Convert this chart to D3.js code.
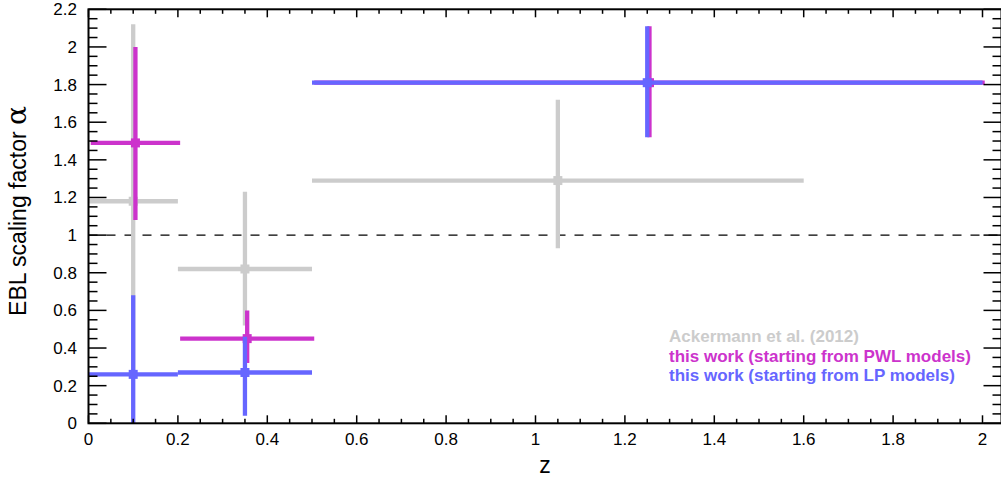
<!DOCTYPE html>
<html>
<head>
<meta charset="utf-8">
<script src="https://cdn.jsdelivr.net/npm/d3@7"></script>
<style>
  body { margin: 0; background: #fff; }
  text { font-family: "Liberation Sans", Arial, sans-serif; }
</style>
</head>
<body>
<script>
// data: bin centre, half width, value, upper and lower error
const ackermann = [
  { x: 0.10, xlo: 0.10, xhi: 0.10, y: 1.18, ehi: 0.94, elo: 0.94 },
  { x: 0.35, xlo: 0.15, xhi: 0.15, y: 0.82, ehi: 0.41, elo: 0.30 },
  { x: 1.05, xlo: 0.55, xhi: 0.55, y: 1.29, ehi: 0.43, elo: 0.36 }
];
const pwl = [
  { x: 0.105, xlo: 0.10, xhi: 0.10, y: 1.49, ehi: 0.51, elo: 0.41 },
  { x: 0.355, xlo: 0.15, xhi: 0.15, y: 0.45, ehi: 0.15, elo: 0.13 },
  { x: 1.255, xlo: 0.75, xhi: 0.75, y: 1.81, ehi: 0.30, elo: 0.29 }
];
const lp = [
  { x: 0.10, xlo: 0.10, xhi: 0.10, y: 0.26, ehi: 0.42, elo: 0.30 },
  { x: 0.35, xlo: 0.15, xhi: 0.15, y: 0.27, ehi: 0.19, elo: 0.23 },
  { x: 1.25, xlo: 0.75, xhi: 0.75, y: 1.81, ehi: 0.30, elo: 0.29 }
];
const xTicks = [0, 0.2, 0.4, 0.6, 0.8, 1, 1.2, 1.4, 1.6, 1.8, 2];
const yTicks = [0, 0.2, 0.4, 0.6, 0.8, 1, 1.2, 1.4, 1.6, 1.8, 2, 2.2];
const legendLabels = ["Ackermann et al. (2012)", "this work (starting from PWL models)", "this work (starting from LP models)"];
const colors = ["#cccccc", "#cc33cc", "#6666ff"];

const width = 1001, height = 479;
const mLeft = 88.5, mRight = 1001.5, mTop = 9.3, mBottom = 423.3;
const xMax = 2.0425;

const svg = d3.select("body").append("svg")
  .attr("width", width)
  .attr("height", height);

const x = d3.scaleLinear().domain([0, xMax]).range([mLeft, mRight]);
const y = d3.scaleLinear().domain([0, 2.2]).range([mBottom, mTop]);

svg.append("clipPath").attr("id", "clip")
  .append("rect").attr("x", mLeft).attr("y", mTop)
  .attr("width", mRight - mLeft).attr("height", mBottom - mTop);

// dashed reference at 1
svg.append("line")
  .attr("x1", mLeft).attr("x2", mRight)
  .attr("y1", y(1)).attr("y2", y(1))
  .attr("stroke", "#000").attr("stroke-width", 1.3)
  .attr("stroke-dasharray", "9,9");

const plot = svg.append("g").attr("clip-path", "url(#clip)");

[ackermann, pwl, lp].forEach(function (series, i) {
  const g = plot.append("g").attr("stroke", colors[i]).attr("fill", colors[i]);
  series.forEach(function (d) {
    g.append("line")
      .attr("x1", x(d.x - d.xlo)).attr("x2", x(d.x + d.xhi))
      .attr("y1", y(d.y)).attr("y2", y(d.y))
      .attr("stroke-width", 4.3);
    g.append("line")
      .attr("x1", x(d.x)).attr("x2", x(d.x))
      .attr("y1", y(d.y - d.elo)).attr("y2", y(d.y + d.ehi))
      .attr("stroke-width", 4.3);
    g.append("rect")
      .attr("x", x(d.x) - 4.5).attr("y", y(d.y) - 4.5)
      .attr("width", 9).attr("height", 9)
      .attr("stroke", "none");
  });
});

// axes
const xMinor = d3.range(0, 41).map(i => i * 0.05).filter(v => v <= xMax);
const yMinor = d3.range(0, 45).map(i => i * 0.05);

function tickLines(g, vals, fn) {
  g.append("g").selectAll("line").data(vals).enter().append("line")
    .attr("stroke", "#000").attr("stroke-width", 1.5)
    .each(fn);
}

const axes = svg.append("g");
// bottom & top ticks
tickLines(axes, xMinor, function (v, i) {
  const len = (i % 4 === 0) ? 8 : 4.5;
  d3.select(this).attr("x1", x(v)).attr("x2", x(v)).attr("y1", mBottom).attr("y2", mBottom - len);
});
tickLines(axes, xMinor, function (v, i) {
  const len = (i % 4 === 0) ? 8 : 4.5;
  d3.select(this).attr("x1", x(v)).attr("x2", x(v)).attr("y1", mTop).attr("y2", mTop + len);
});
// left & right ticks
tickLines(axes, yMinor, function (v, i) {
  const len = (i % 4 === 0) ? 18 : 9;
  d3.select(this).attr("y1", y(v)).attr("y2", y(v)).attr("x1", mLeft).attr("x2", mLeft + len);
});
tickLines(axes, yMinor, function (v, i) {
  const len = (i % 4 === 0) ? 18 : 9;
  d3.select(this).attr("y1", y(v)).attr("y2", y(v)).attr("x1", mRight).attr("x2", mRight - len);
});

axes.append("rect")
  .attr("x", mLeft).attr("y", mTop)
  .attr("width", mRight - mLeft).attr("height", mBottom - mTop)
  .attr("fill", "none").attr("stroke", "#000").attr("stroke-width", 2);

const fmt = d3.format("");
axes.append("g").selectAll("text").data(xTicks).enter().append("text")
  .attr("x", d => x(d)).attr("y", 445)
  .attr("text-anchor", "middle").attr("font-size", 17)
  .text(d => fmt(d));
axes.append("g").selectAll("text").data(yTicks).enter().append("text")
  .attr("x", 77).attr("y", d => y(d) + 6)
  .attr("text-anchor", "end").attr("font-size", 17)
  .text(d => fmt(d));

svg.append("text")
  .attr("x", (mLeft + mRight) / 2).attr("y", 473)
  .attr("text-anchor", "middle").attr("font-size", 23)
  .text("z");

const yt = svg.append("text")
  .attr("transform", "translate(26," + 211 + ") rotate(-90)")
  .attr("text-anchor", "middle").attr("font-size", 23);
yt.append("tspan").text("EBL scaling factor ");
yt.append("tspan").attr("font-size", 28).attr("font-family", "DejaVu Serif, serif").text("α");

svg.append("g").selectAll("text").data(legendLabels).enter().append("text")
  .attr("x", 669).attr("y", (d, i) => 342 + i * 19.5)
  .attr("font-size", 17).attr("font-weight", "bold")
  .attr("fill", (d, i) => colors[i])
  .text(d => d);
</script>
</body>
</html>
